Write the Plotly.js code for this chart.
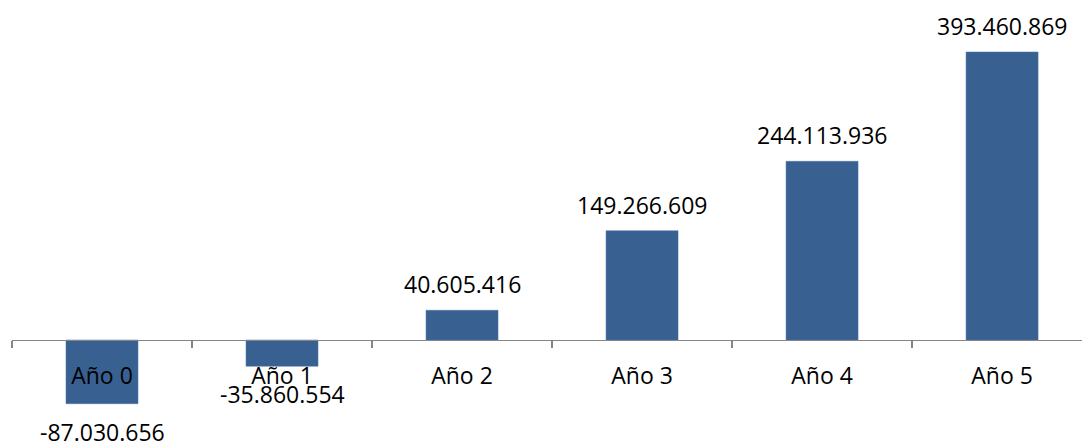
<!DOCTYPE html>
<html>
<head>
<meta charset="utf-8">
<script src="https://cdn.plot.ly/plotly-3.0.1.min.js"></script>
<style>
html, body { margin: 0; padding: 0; overflow: hidden; background: #ffffff; }
#chart { width: 1082px; height: 442px; }
</style>
</head>
<body>
<div id="chart"></div>
<script>
// Data
var categories = ["Año 0", "Año 1", "Año 2", "Año 3", "Año 4", "Año 5"];
var values = [-87030656, -35860554, 40605416, 149266609, 244113936, 393460869];

function fmt(v) {
  var s = Math.abs(Math.round(v)).toString().replace(/\B(?=(\d{3})+(?!\d))/g, ".");
  return (v < 0 ? "-" : "") + s;
}

var yMin = -139.35e6, yMax = 464.5e6;
var FONT = "Open Sans, Noto Sans, sans-serif";

var trace = {
  type: "bar",
  x: categories,
  y: values,
  width: 0.4,
  marker: { color: "#386192", line: { color: "#4a73a6", width: 0.5 } },
  hoverinfo: "skip"
};

var annotations = values.map(function (v, i) {
  return {
    x: categories[i],
    y: v,
    xref: "x",
    yref: "y",
    text: fmt(v),
    showarrow: false,
    xanchor: "center",
    yanchor: "middle",
    yshift: v >= 0 ? 26 : -28,
    font: { family: FONT, size: 23, color: "#000000" }
  };
});

var layout = {
  width: 1082,
  height: 442,
  margin: { l: 12, r: 0, t: 0, b: 0, pad: 0 },
  paper_bgcolor: "#ffffff",
  plot_bgcolor: "#ffffff",
  showlegend: false,
  bargap: 0.6,
  xaxis: {
    type: "category",
    range: [-0.5, 5.444],
    anchor: "free",
    position: (0 - yMin) / (yMax - yMin),
    showline: true,
    linecolor: "#868686",
    linewidth: 1.3,
    ticks: "outside",
    tickson: "boundaries",
    ticklen: 7,
    tickcolor: "#868686",
    tickwidth: 1.3,
    showgrid: false,
    zeroline: false,
    tickfont: { family: FONT, size: 23, color: "#000000" },
    ticklabelstandoff: 15,
    fixedrange: true
  },
  yaxis: {
    range: [yMin, yMax],
    visible: false,
    showgrid: false,
    zeroline: false,
    fixedrange: true
  },
  annotations: annotations
};

Plotly.newPlot("chart", [trace], layout, { displayModeBar: false, staticPlot: true });
</script>
</body>
</html>
